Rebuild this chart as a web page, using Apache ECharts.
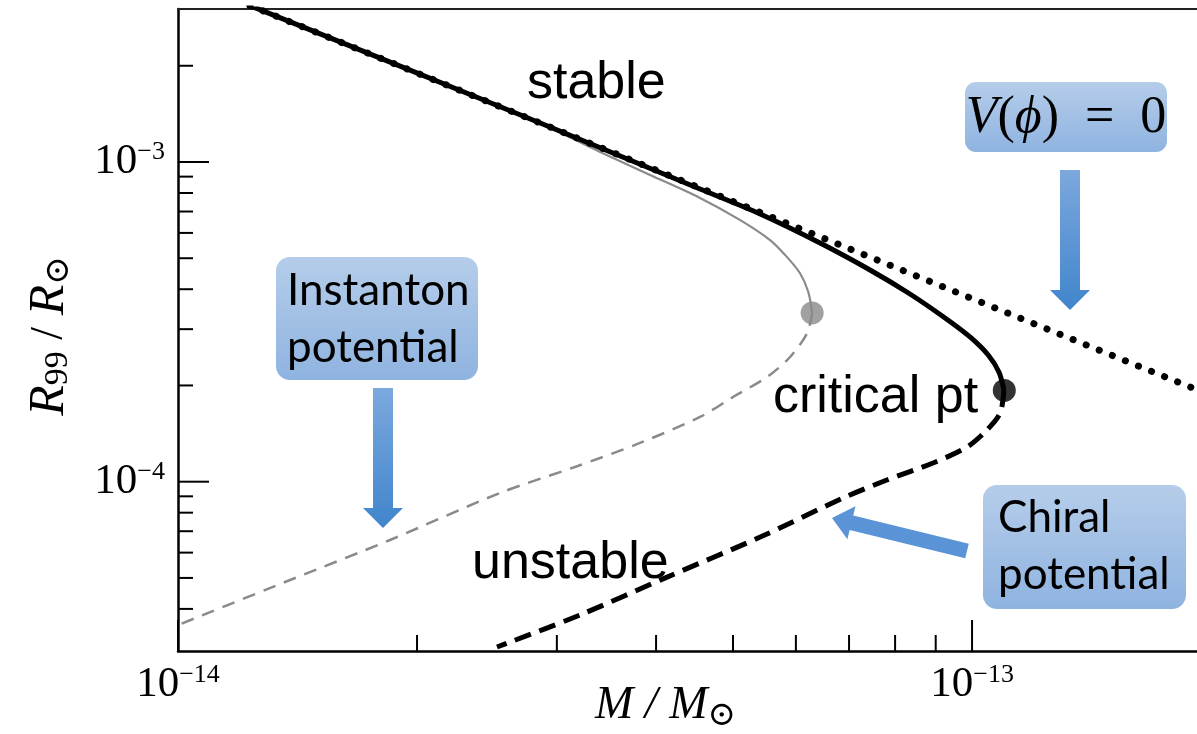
<!DOCTYPE html>
<html><head><meta charset="utf-8">
<script src="https://cdn.jsdelivr.net/npm/echarts@6/dist/echarts.min.js"></script>
<style>html,body{margin:0;padding:0;background:#fff}#c{width:1197px;height:734px}</style>
</head><body><div id="c"></div>
<script>
// ---- axis ranges & ticks ----
const xRange = [1e-14, 1.92e-13];
const yRange = [2.954e-5, 3.01e-3];
const xMajorTicks = [1e-14, 1e-13];
const xMajorLabels = ['−14', '−13'];
const xMinorTicks = [2e-14, 3e-14, 4e-14, 5e-14, 6e-14, 7e-14, 8e-14, 9e-14];
const yMajorTicks = [1e-4, 1e-3];
const yMajorLabels = ['−4', '−3'];
const yMinorTicks = [4e-5, 5e-5, 6e-5, 7e-5, 8e-5, 9e-5, 2e-4, 3e-4, 4e-4, 5e-4, 6e-4, 7e-4, 8e-4, 9e-4, 2e-3];

// ---- series (M / Msun , R99 / Rsun) ----
const chiralStableM = [1.232e-14, 1.904e-14, 2.941e-14, 4.544e-14, 5.41e-14, 6.436e-14, 7.44e-14, 8.353e-14, 9.247e-14, 9.94e-14, 1.048e-13, 1.081e-13, 1.097e-13];
const chiralStableR = [3.085e-3, 1.995e-3, 1.287e-3, 8.23e-4, 6.876e-4, 5.58e-4, 4.594e-4, 3.865e-4, 3.251e-4, 2.836e-4, 2.490e-4, 2.203e-4, 1.935e-4];
const chiralUnstableM = [1.097e-13, 1.085e-13, 1.044e-13, 9.856e-14, 8.93e-14, 7.81e-14, 6.88e-14, 5.41e-14, 4.13e-14, 3.209e-14, 2.522e-14];
const chiralUnstableR = [1.935e-4, 1.640e-4, 1.451e-4, 1.284e-4, 1.144e-4, 1.012e-4, 8.89e-5, 6.71e-5, 5.03e-5, 3.83e-5, 3.04e-5];
const instantonStableM = [1.232e-14, 1.904e-14, 2.544e-14, 2.941e-14, 3.401e-14, 3.931e-14, 4.544e-14, 5.10e-14, 5.567e-14, 5.815e-14, 6.07e-14, 6.22e-14, 6.29e-14];
const instantonStableR = [3.085e-3, 1.995e-3, 1.486e-3, 1.277e-3, 1.075e-3, 9.11e-4, 7.72e-4, 6.59e-4, 5.70e-4, 5.12e-4, 4.495e-4, 3.922e-4, 3.371e-4];
const instantonUnstableM = [6.29e-14, 6.20e-14, 5.90e-14, 5.52e-14, 5.00e-14, 4.544e-14, 3.818e-14, 3.162e-14, 2.544e-14, 1.849e-14, 1.384e-14, 1.0e-14];
const instantonUnstableR = [3.371e-4, 2.918e-4, 2.455e-4, 2.126e-4, 1.840e-4, 1.594e-4, 1.322e-4, 1.112e-4, 9.22e-5, 6.57e-5, 4.925e-5, 3.562e-5];
const vZeroM = [1.232e-14, 1.904e-14, 2.941e-14, 4.544e-14, 7.02e-14, 1.085e-13, 1.450e-13, 1.938e-13];
const vZeroR = [3.085e-3, 1.995e-3, 1.287e-3, 8.29e-4, 5.345e-4, 3.444e-4, 2.571e-4, 1.921e-4];
const criticalPoint = [1.098e-13, 1.93e-4];
const instantonEndPoint = [6.29e-14, 3.371e-4];

const zip = (a, b) => a.map((v, i) => [v, b[i]]);
const chart = echarts.init(document.getElementById('c'), null, {renderer: 'canvas'});

const serif = "'Liberation Serif', 'DejaVu Serif', serif";
const sans = "'Liberation Sans', Arial, sans-serif";
const boxFont = "Lato, 'Open Sans', sans-serif";

function majorLabel(ticks, labels) {
  return v => {
    const i = ticks.findIndex(t => Math.abs(Math.log10(t) - Math.log10(v)) < 1e-6);
    return i < 0 ? '' : '{b|10}{s|' + labels[i] + '}';
  };
}
const tickRich = {
  b: {fontFamily: serif, fontSize: 43, color: '#000'},
  s: {fontFamily: serif, fontSize: 26, color: '#000', padding: [0, 0, 19, 0]}
};

function tickSeries(values, axis, len) {
  return {
    type: 'custom', silent: true, clip: false, z: 5, animation: false,
    data: values.map(v => axis === 'x' ? [v, yRange[0]] : [xRange[0], v]),
    renderItem: (params, api) => {
      const p = api.coord([api.value(0), api.value(1)]);
      const shape = axis === 'x'
        ? {x1: p[0], y1: p[1], x2: p[0], y2: p[1] - len}
        : {x1: p[0], y1: p[1], x2: p[0] + len, y2: p[1]};
      return {type: 'line', shape, style: {stroke: '#000', lineWidth: 2}};
    }
  };
}

const boxGrad = {type: 'linear', x: 0, y: 0, x2: 0, y2: 1,
  colorStops: [{offset: 0, color: '#b5cdea'}, {offset: 1, color: '#8fb3e0'}]};
const arrowGrad = {type: 'linear', x: 0, y: 0, x2: 0, y2: 1,
  colorStops: [{offset: 0, color: '#7ca8dd'}, {offset: 1, color: '#4085cc'}]};

function arrowPoints(tail, tip, shaftHalf, headHalf, headLen) {
  const dx = tip[0] - tail[0], dy = tip[1] - tail[1];
  const L = Math.hypot(dx, dy), ux = dx / L, uy = dy / L, nx = -uy, ny = ux;
  const bx = tip[0] - ux * headLen, by = tip[1] - uy * headLen;
  return [
    [tail[0] + nx * shaftHalf, tail[1] + ny * shaftHalf],
    [bx + nx * shaftHalf, by + ny * shaftHalf],
    [bx + nx * headHalf, by + ny * headHalf],
    [tip[0], tip[1]],
    [bx - nx * headHalf, by - ny * headHalf],
    [bx - nx * shaftHalf, by - ny * shaftHalf],
    [tail[0] - nx * shaftHalf, tail[1] - ny * shaftHalf]
  ];
}

const option = {
  animation: false,
  backgroundColor: '#fff',
  grid: {left: 178, right: 0, top: 9, bottom: 83, containLabel: false, outerBoundsMode: 'none'},
  xAxis: [{
    type: 'log', logBase: 10, min: xRange[0], max: xRange[1], position: 'bottom',
    axisLine: {show: true, lineStyle: {color: '#000', width: 2.5}},
    axisTick: {show: false}, splitLine: {show: false}, minorTick: {show: false},
    axisLabel: {formatter: majorLabel(xMajorTicks, xMajorLabels), rich: tickRich, margin: 11, showMinLabel: true, showMaxLabel: false},
    name: '{i|M}{n| / }{i|M}{o|⊙}', nameLocation: 'middle', nameGap: 28, nameMoveOverlap: false,
    nameTextStyle: {
      padding: [0, 44, 0, 0],
      rich: {
        i: {fontFamily: serif, fontStyle: 'italic', fontSize: 46, color: '#000'},
        n: {fontFamily: serif, fontStyle: 'italic', fontSize: 46, color: '#000'},
        o: {fontFamily: "'DejaVu Serif', serif", fontSize: 34, color: '#000', padding: [20, 0, 0, 0]}
      }
    }
  }, {
    type: 'log', logBase: 10, min: xRange[0], max: xRange[1], position: 'top',
    axisLine: {show: true, lineStyle: {color: '#222', width: 2}},
    axisTick: {show: false}, axisLabel: {show: false}, splitLine: {show: false}
  }],
  yAxis: [{
    type: 'log', logBase: 10, min: yRange[0], max: yRange[1], position: 'left',
    axisLine: {show: true, lineStyle: {color: '#000', width: 2.5}},
    axisTick: {show: false}, splitLine: {show: false}, minorTick: {show: false},
    axisLabel: {formatter: majorLabel(yMajorTicks, yMajorLabels), rich: tickRich, margin: 13, showMinLabel: false, showMaxLabel: false},
    name: '{i|R}{sub|99}{n| / }{i|R}{o|⊙}', nameLocation: 'middle', nameGap: 102, nameRotate: 90, nameMoveOverlap: false,
    nameTextStyle: {
      padding: [0, 12, 0, 0],
      rich: {
        i: {fontFamily: serif, fontStyle: 'italic', fontSize: 50, color: '#000'},
        n: {fontFamily: serif, fontSize: 46, color: '#000'},
        sub: {fontFamily: serif, fontSize: 34, color: '#000', padding: [16, 0, 0, 0]},
        o: {fontFamily: "'DejaVu Serif', serif", fontSize: 34, color: '#000', padding: [18, 0, 0, 0]}
      }
    }
  }],
  series: [
    tickSeries(xMajorTicks, 'x', 31),
    tickSeries(xMinorTicks, 'x', 16),
    tickSeries(yMajorTicks, 'y', 31),
    tickSeries(yMinorTicks, 'y', 15),
    {type: 'line', name: 'Instanton stable', data: zip(instantonStableM, instantonStableR), smooth: 0.3,
      symbol: 'none', silent: true, lineStyle: {color: '#8a8a8a', width: 2.2}, z: 2},
    {type: 'line', name: 'Instanton unstable', data: zip(instantonUnstableM, instantonUnstableR), smooth: 0.3,
      symbol: 'none', silent: true, lineStyle: {color: '#8a8a8a', width: 2.5, type: [13, 9]}, z: 2},
    {type: 'line', name: 'Chiral stable', data: zip(chiralStableM, chiralStableR), smooth: 0.3,
      symbol: 'none', silent: true, lineStyle: {color: '#000', width: 5}, z: 3},
    {type: 'line', name: 'Chiral unstable', data: zip(chiralUnstableM, chiralUnstableR), smooth: 0.3,
      symbol: 'none', silent: true, lineStyle: {color: '#000', width: 5, type: [17, 9]}, z: 3},
    {type: 'line', name: 'V=0', data: zip(vZeroM, vZeroR), smooth: false,
      symbol: 'none', silent: true, lineStyle: {color: '#000', width: 7, type: [0.1, 14], cap: 'round'}, z: 4},
    {type: 'scatter', data: [instantonEndPoint], symbolSize: 23, itemStyle: {color: '#8a8a8a'}, silent: true, z: 6},
    {type: 'scatter', data: [criticalPoint], symbolSize: 23, itemStyle: {color: '#000'}, silent: true, z: 6}
  ],
  graphic: [
    {type: 'text', left: 527, top: 58, style: {text: 'stable', font: '52px ' + sans, fill: '#000'}, z: 10},
    {type: 'text', left: 472, top: 538, style: {text: 'unstable', font: '52px ' + sans, fill: '#000'}, z: 10},
    {type: 'text', left: 773, top: 372, style: {text: 'critical pt', font: '52px ' + sans, fill: '#000'}, z: 10},
    // V(phi)=0 box
    {type: 'rect', shape: {x: 965, y: 82, width: 202, height: 70, r: 11}, style: {fill: boxGrad}, z: 10},
    {type: 'text', x: 1066, y: 118, style: {
      text: '{i|V}{n|(}{i|ϕ}{n|)  =  0}', align: 'center', verticalAlign: 'middle',
      rich: {i: {fontFamily: serif, fontStyle: 'italic', fontSize: 52, fill: '#000'},
             n: {fontFamily: serif, fontSize: 52, fill: '#000'}}}, z: 11},
    {type: 'polygon', shape: {points: arrowPoints([1070, 170], [1070, 310], 10, 20, 20)}, style: {fill: arrowGrad}, z: 10},
    // Instanton box
    {type: 'rect', shape: {x: 276, y: 257, width: 202, height: 123, r: 14}, style: {fill: boxGrad}, z: 10},
    {type: 'text', left: 287, top: 262, style: {text: 'Instanton\npotential', font: '44px ' + boxFont, fill: '#000', lineHeight: 57}, z: 11},
    {type: 'polygon', shape: {points: arrowPoints([383, 388], [383, 528], 10, 20, 20)}, style: {fill: arrowGrad}, z: 10},
    // Chiral box
    {type: 'rect', shape: {x: 983, y: 485, width: 203, height: 124, r: 14}, style: {fill: boxGrad}, z: 10},
    {type: 'text', left: 998, top: 489, style: {text: 'Chiral\npotential', font: '44px ' + boxFont, fill: '#000', lineHeight: 57}, z: 11},
    {type: 'polygon', shape: {points: arrowPoints([967, 551], [832, 518], 7.5, 17, 20)}, style: {fill: '#5a94d6'}, z: 10}
  ]
};
chart.setOption(option);
</script></body></html>
